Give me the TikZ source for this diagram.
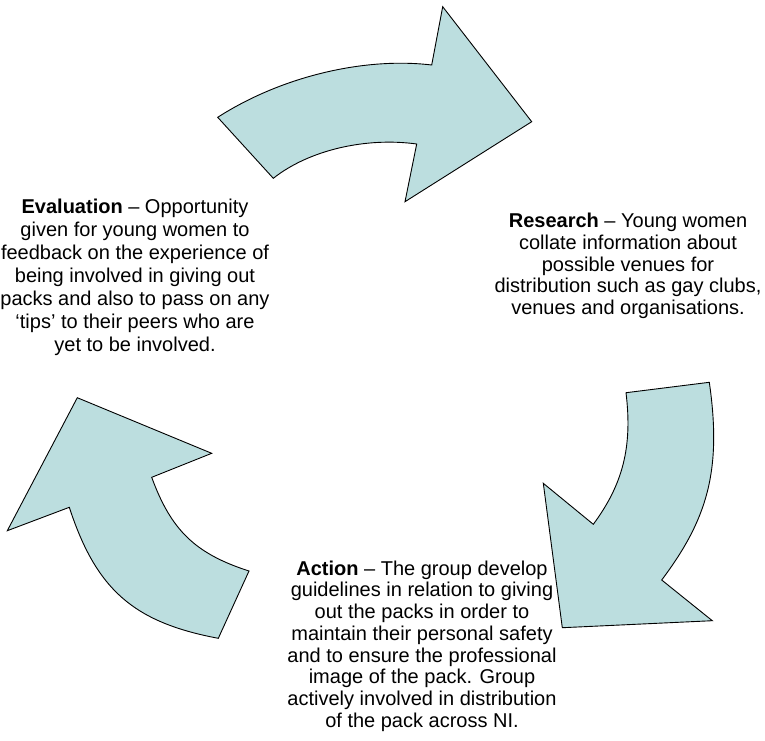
\documentclass[tikz,border=0pt]{standalone}
\usepackage{fontspec}
\setmainfont{Liberation Sans}
\definecolor{arrowfill}{RGB}{188,222,223}
\begin{document}
\begin{tikzpicture}[x=1pt,y=-1pt,
  arrowshape/.style={draw=black, line width=0.9pt, fill=arrowfill, line join=miter},
  txt/.style={align=center, inner sep=0pt, font=\fontsize{20}{22}\selectfont}]
\useasboundingbox (0,0) rectangle (765,740);
% top arrow
\filldraw[arrowshape] (273.3,178.3) -- (217.7,117.3)
  .. controls (282,76) and (365,57) .. (431.7,65)
  -- (442.7,6.7) -- (531.7,121.7) -- (405,201.7) -- (416.7,144)
  .. controls (366,137) and (309,150) .. (273.3,178.3)
  -- cycle;
% right arrow
\filldraw[arrowshape] (626,392.7) -- (709.3,382.3)
  .. controls (722.2,471.4) and (706.7,520) .. (661.7,580)
  -- (712.3,620.7) -- (562.3,627.7) -- (543.3,483.3) -- (593.3,524.3)
  .. controls (622.8,484.3) and (632.6,447.1) .. (626,392.7)
  -- cycle;
% left arrow
\filldraw[arrowshape] (249,571) -- (218.3,638.3)
  .. controls (133.4,622.3) and (96.2,589.6) .. (69.3,507.3)
  -- (7.3,530.7) -- (77.3,397.7) -- (211.7,453.3) -- (151.7,477.3)
  .. controls (171.1,530.4) and (195.5,553.8) .. (249,571)
  -- cycle;
% texts
\node[txt, font=\fontsize{20}{23}\selectfont] (evaluation) at (135,277) {\textbf{Evaluation} – Opportunity\\given for young women to\\feedback on the experience of\\being involved in giving out\\packs and also to pass on any\\‘tips’ to their peers who are\\yet to be involved.};
\node[txt, font=\fontsize{20}{21.7}\selectfont] (research) at (628,266) {\textbf{Research} – Young women\\collate information about\\possible venues for\\distribution such as gay clubs,\\venues and organisations.};
\node[txt, font=\fontsize{20}{21.7}\selectfont] (action) at (422,646) {\textbf{Action} – The group develop\\guidelines in relation to giving\\out the packs in order to\\maintain their personal safety\\and to ensure the professional\\image of the pack. Group\\actively involved in distribution\\of the pack across NI.};
\end{tikzpicture}
\end{document}
